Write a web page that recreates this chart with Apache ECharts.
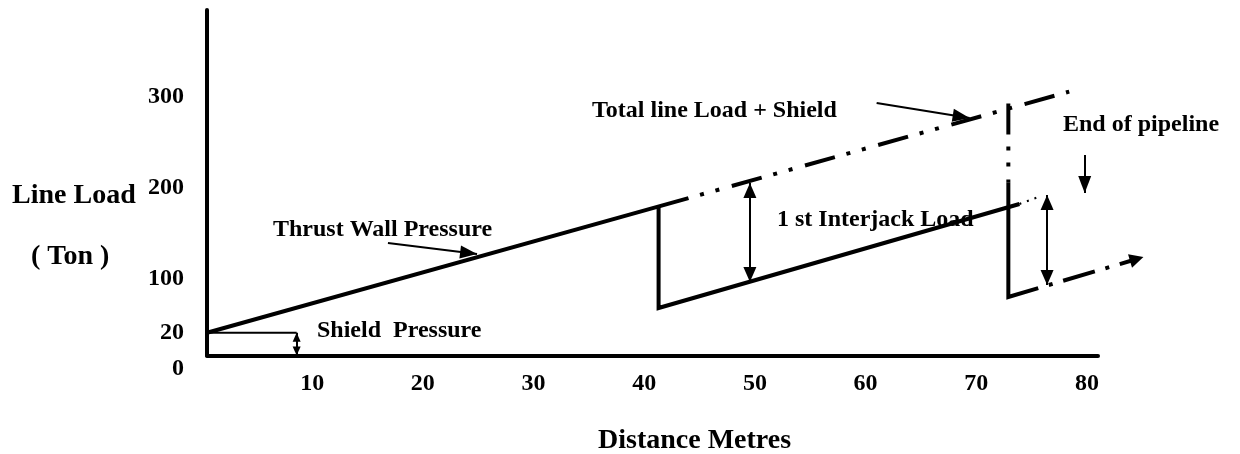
<!DOCTYPE html>
<html><head><meta charset="utf-8">
<script src="https://cdn.jsdelivr.net/npm/echarts@6/dist/echarts.min.js"></script>
<style>html,body{margin:0;padding:0;background:#fff}#c{width:1240px;height:454px}</style>
</head><body><div id="c"></div>
<script>
// ---- data (x: distance in metres, y: load on the drawing's linear scale) ----
const xTickValues = [10, 20, 30, 40, 50, 60, 70, 80];
const yTickValues = [0, 40, 100, 200, 300];
const yTickLabels = ['0', '20', '100', '200', '300'];

const thrustWall      = [[0.5, 40], [44, 188.5]];          // solid thrust-wall pressure
const totalLoad       = [[44, 188.5], [78.4, 306]];        // dash-dot total line load + shield
const firstJack       = [[41.3, 179.3], [41.3, 67.3], [73.9, 182]];
const firstJackTail   = [[73.9, 182], [75.6, 189.7]];
const endDropDash     = [[72.9, 293], [72.9, 206]];
const endDropSolid    = [[72.9, 206], [72.9, 79.4], [75.6, 89.2]];
const residualLoad    = [[75.6, 89.2], [84.5, 121.3]];
const shieldLevel     = [[0.5, 40], [8.6, 40]];
const shieldArrow     = [[8.6, 40], [8.6, 15]];
const thrustPointer   = [[16.85, 139], [24.9, 126.8]];
const totalPointer    = [[61.0, 293.4], [69.4, 276.9]];
const endPointer      = [[79.8, 236], [79.8, 194.1]];
const jackGap1        = [[49.55, 205.2], [49.55, 96]];
const jackGap2        = [[76.4, 191.9], [76.4, 92.7]];

const annotations = [
  {text: 'Total line Load + Shield', x: 592, y: 113},
  {text: 'Thrust Wall Pressure', x: 273, y: 232},
  {text: 'Shield  Pressure', x: 317, y: 333},
  {text: '1 st Interjack Load', x: 777, y: 222},
  {text: 'End of pipeline', x: 1063, y: 127}
];

const FONT = "'Liberation Serif', 'Times New Roman', serif";
const INK = '#000';
const DASHDOT = [31, 12, 4, 12, 4, 13];
const LW = 4;

function seg(name, data, width, type, offset) {
  return {
    name, type: 'line', xAxisIndex: 0, yAxisIndex: 0, data,
    symbol: 'none', clip: false, silent: true, animation: false,
    lineStyle: {color: INK, width, type: type || 'solid', dashOffset: offset || 0, cap: 'butt', join: 'miter'}
  };
}
function arrow(name, pairs, width, both, size) {
  return {
    name, type: 'line', xAxisIndex: 0, yAxisIndex: 0, data: [],
    clip: false, silent: true, animation: false,
    markLine: {
      silent: true, animation: false,
      symbol: [both ? 'triangle' : 'none', 'triangle'],
      symbolSize: size,
      symbolOffset: [[0, '50%'], [0, '50%']],
      label: {show: false},
      emphasis: {disabled: true},
      lineStyle: {color: INK, width, type: 'solid', cap: 'butt'},
      itemStyle: {color: INK},
      data: pairs.map(p => [{coord: p[0]}, {coord: p[1]}])
    }
  };
}

const chart = echarts.init(document.getElementById('c'), null, {renderer: 'canvas'});
chart.setOption({
  backgroundColor: '#fff',
  animation: false,
  grid: [
    {left: 207, right: 142, top: 10, bottom: 98.6, containLabel: false},
    {left: 207, right: 142, top: 10, bottom: 85, containLabel: false}
  ],
  xAxis: [
    {type: 'value', gridIndex: 0, min: 0.5, max: 81,
     axisLine: {show: true, onZero: false, lineStyle: {color: INK, width: LW}},
     axisTick: {show: false}, splitLine: {show: false},
     axisLabel: {customValues: xTickValues, margin: 16, color: INK, fontFamily: FONT, fontWeight: 'bold', fontSize: 24}},
    {type: 'value', gridIndex: 1, min: 0.5, max: 81, show: false}
  ],
  yAxis: [
    {type: 'value', gridIndex: 0, min: 15, max: 396,
     axisLine: {show: true, onZero: false, lineStyle: {color: INK, width: LW}},
     axisTick: {show: false}, splitLine: {show: false}, axisLabel: {show: false}},
    {type: 'value', gridIndex: 1, min: 0, max: 396,
     axisLine: {show: false}, axisTick: {show: false}, splitLine: {show: false},
     axisLabel: {customValues: yTickValues, margin: 23, color: INK, fontFamily: FONT, fontWeight: 'bold', fontSize: 24,
       formatter: v => yTickLabels[yTickValues.indexOf(v)]}}
  ],
  series: [
    seg('Thrust Wall Pressure', thrustWall, LW),
    seg('Total line Load + Shield', totalLoad, LW, DASHDOT, 31),
    seg('1 st Interjack Load', firstJack, LW),
    seg('1 st Interjack Load tail', firstJackTail, 2, [2, 6]),
    seg('End drop dash', endDropDash, LW, DASHDOT, 0),
    seg('End drop', endDropSolid, LW),
    seg('Shield Pressure', shieldLevel, 1.8),
    {
      name: 'Residual load', type: 'lines', coordinateSystem: 'cartesian2d', xAxisIndex: 0, yAxisIndex: 0,
      clip: false, silent: true, animation: false, polyline: false,
      symbol: ['none', 'triangle'], symbolSize: [14, 14],
      lineStyle: {color: INK, width: LW, type: [33, 11, 4, 11], dashOffset: 33, cap: 'butt', opacity: 1, curveness: 0},
      itemStyle: {color: INK},
      data: [{coords: residualLoad}]
    },
    arrow('Pointers', [thrustPointer, totalPointer, endPointer], 2, false, [13, 17]),
    arrow('Gaps', [jackGap1, jackGap2], 2, true, [13, 15]),
    arrow('Shield arrow', [shieldArrow], 2, true, [8, 9])
  ],
  graphic: [
    ...annotations.map(a => ({type: 'text', left: a.x, top: a.y - 14, silent: true,
      style: {text: a.text, fill: INK, font: 'bold 24px ' + FONT}})),
    {type: 'text', left: 12, top: 198 - 16, silent: true, style: {text: 'Line Load', fill: INK, font: 'bold 28px ' + FONT}},
    {type: 'text', left: 31, top: 259 - 16, silent: true, style: {text: '( Ton )', fill: INK, font: 'bold 28px ' + FONT}},
    {type: 'text', left: 598, top: 443 - 16, silent: true, style: {text: 'Distance Metres', fill: INK, font: 'bold 28px ' + FONT}}
  ]
});
</script></body></html>
